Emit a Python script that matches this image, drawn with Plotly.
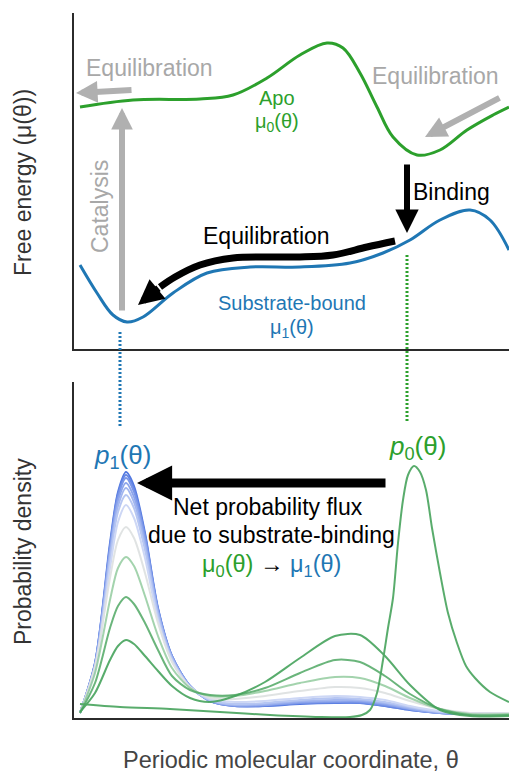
import plotly.graph_objects as go

# ---------------- data ----------------
# Top panel: free-energy landscapes (theta in display units, energy in arbitrary units)
APO_THETA = [80, 133, 200, 233, 267, 300, 327, 343, 360, 377, 393, 417, 440, 467, 493, 509]
APO_MU0 = [242, 249, 250, 254, 271, 294, 306, 301, 276, 242, 212, 194, 199, 219, 234, 242]

BOUND_THETA = [80, 97, 113, 127, 143, 173, 207, 250, 300, 350, 383, 410, 440, 470, 490, 509]
BOUND_MU1 = [84, 56, 34, 27, 32, 56, 76, 82, 82, 86, 96, 109, 129, 139, 129, 99]

# path of the black "Equilibration" arrow along the bound landscape
EQ_PATH_THETA = [395, 367, 333, 300, 267, 233, 200, 175, 160]
EQ_PATH_E = [108, 102, 94, 92, 92, 91, 84, 72, 62]

# Bottom panel: probability densities
P0_THETA = [80, 120, 170, 220, 270, 320, 350, 362, 370, 377, 383, 388, 393, 398, 403, 408,
            414, 420, 426, 432, 440, 448, 457, 466, 475, 490, 509]
P0_DENS = [14, 11, 9, 6, 3, 1, 1, 3, 8, 25, 58, 90, 120, 175, 218, 243,
           252, 246, 228, 190, 145, 105, 75, 52, 40, 26, 16]

GRID_THETA = [80, 95, 110, 118, 126, 134, 145, 158, 172, 190, 210, 235, 265, 300, 335, 360,
              385, 410, 440, 470, 509]
P_T01 = [6, 25, 58, 72, 78, 74, 62, 47, 32, 20, 16, 22, 36, 60, 82, 83, 62, 33, 8, 2, 2]
P_T02 = [5, 35, 90, 112, 121, 114, 95, 68, 42, 28, 23, 23, 30, 45, 58, 56, 42, 24, 9, 3, 3]
P_T03 = [5, 45, 118, 150, 161, 152, 122, 82, 50, 30, 22, 22, 27, 35, 41, 40, 32, 20, 9, 4, 4]
P_T04 = [5, 52, 140, 178, 191, 180, 145, 95, 56, 31, 20, 19, 22, 27, 31, 30, 25, 17, 9, 5, 5]
P_T05 = [5, 48, 150, 196, 213, 200, 160, 98, 57, 31, 19, 16, 17, 20, 22, 21, 18, 12, 7, 5, 5]
P_T06 = [5, 50, 158, 206, 223, 210, 168, 102, 59, 31, 18, 14, 15, 18, 20, 19, 16, 11, 6, 5, 5]
P_T07 = [5, 52, 163, 212, 230, 216, 173, 105, 60, 31, 18, 13, 14, 17, 18, 18, 15, 10, 6, 4, 5]
P_T08 = [5, 53, 167, 217, 235, 221, 177, 107, 61, 32, 17, 13, 13, 16, 17, 17, 14, 9, 5, 4, 5]
P_T09 = [5, 54, 170, 221, 240, 226, 181, 108, 61, 32, 17, 12, 13, 15, 16, 16, 13, 9, 5, 4, 5]
P_T10 = [5, 55, 172, 224, 243, 229, 183, 109, 62, 32, 17, 12, 12, 15, 15.5, 15, 12, 8, 5, 4, 5]
P_T11 = [5, 55, 175, 226, 246, 232, 185, 110, 62, 32, 17, 12, 12, 14, 15, 15, 12, 8, 5, 4, 5]
INTERMEDIATES = [P_T01, P_T02, P_T03, P_T04, P_T05, P_T06, P_T07, P_T08, P_T09, P_T10, P_T11]

THETA_MIN1 = 120   # marked minimum of mu1 (dotted blue)
THETA_MIN0 = 407   # marked minimum of mu0 (dotted green)

# ---------------- styles ----------------
GREEN = "#2ca02c"
BLUE = "#1f77b4"
GRAY = "#b0b0b0"
GRAYTXT = "#a8a8a8"
AXC = "#2b2b2b"
FONT = "Liberation Sans, Arial, Helvetica, sans-serif"
INT_COLORS = ["rgba(70,163,92,0.9)", "rgba(80,168,100,0.85)", "rgba(140,200,152,0.8)",
              "rgba(222,226,226,0.95)", "rgb(205,215,245)", "rgb(182,198,242)",
              "rgb(162,182,239)", "rgb(142,166,236)", "rgb(122,150,232)",
              "rgb(102,135,228)", "rgb(82,120,224)"]
P0_COLOR = "rgba(80,168,100,0.95)"

W, H = 509, 775
L = 74
TOP_DOM = [1 - 349 / H, 1 - 13 / H]
BOT_DOM = [1 - 718 / H, 1 - 382 / H]

fig = go.Figure()

# top panel curves
fig.add_trace(go.Scatter(x=APO_THETA, y=APO_MU0, mode="lines", xaxis="x", yaxis="y",
                         line=dict(color=GREEN, width=3, shape="spline", smoothing=1.0),
                         showlegend=False, hoverinfo="skip"))
fig.add_trace(go.Scatter(x=BOUND_THETA, y=BOUND_MU1, mode="lines", xaxis="x", yaxis="y",
                         line=dict(color=BLUE, width=3, shape="spline", smoothing=1.0),
                         showlegend=False, hoverinfo="skip"))
fig.add_trace(go.Scatter(x=EQ_PATH_THETA, y=EQ_PATH_E, mode="lines", xaxis="x", yaxis="y",
                         line=dict(color="black", width=7, shape="spline", smoothing=1.0),
                         showlegend=False, hoverinfo="skip"))

# bottom panel curves (blue first, green on top)
for dens, col in reversed(list(zip(INTERMEDIATES, INT_COLORS))):
    fig.add_trace(go.Scatter(x=GRID_THETA, y=dens, mode="lines", xaxis="x2", yaxis="y2",
                             line=dict(color=col, width=2, shape="spline", smoothing=0.8),
                             showlegend=False, hoverinfo="skip"))
fig.add_trace(go.Scatter(x=P0_THETA, y=P0_DENS, mode="lines", xaxis="x2", yaxis="y2",
                         line=dict(color=P0_COLOR, width=2, shape="spline", smoothing=0.8),
                         showlegend=False, hoverinfo="skip"))

ax_common = dict(showline=True, linecolor=AXC, linewidth=2, showticklabels=False, ticks="",
                 showgrid=False, zeroline=False, fixedrange=True)
fig.update_layout(
    width=W, height=H, margin=dict(l=L, r=0, t=0, b=0),
    paper_bgcolor="white", plot_bgcolor="white",
    xaxis=dict(domain=[0, 1], range=[74, 509], anchor="y", **ax_common),
    yaxis=dict(domain=TOP_DOM, range=[0, 336], anchor="x", **ax_common),
    xaxis2=dict(domain=[0, 1], range=[74, 509], anchor="y2", **ax_common),
    yaxis2=dict(domain=BOT_DOM, range=[0, 336], anchor="x2", **ax_common),
    font=dict(family=FONT),
)

# dotted guide lines across panels
fig.add_shape(type="line", xref="x", yref="paper", x0=THETA_MIN1, x1=THETA_MIN1,
              y0=1 - 332 / H, y1=1 - 428 / H, line=dict(color=BLUE, width=3, dash="2px,2px"))
fig.add_shape(type="line", xref="x", yref="paper", x0=THETA_MIN0, x1=THETA_MIN0,
              y0=1 - 255 / H, y1=1 - 422 / H, line=dict(color=GREEN, width=3, dash="2px,2px"))

ann = []


def arrow(x, y, ax, ay, color, width, size, xr="x", yr="y"):
    ann.append(dict(x=x, y=y, ax=ax, ay=ay, xref=xr, yref=yr, axref=xr, ayref=yr,
                    showarrow=True, arrowhead=2, arrowsize=size, arrowwidth=width,
                    arrowcolor=color, standoff=0, text=""))


def label(x, y, text, color, size=23, xr="x", yr="y", angle=0, yanchor="middle"):
    ann.append(dict(x=x, y=y, xref=xr, yref=yr, text=text, showarrow=False,
                    font=dict(color=color, size=size, family=FONT), textangle=angle,
                    xanchor="center", yanchor=yanchor, borderpad=0))


# arrows
arrow(76, 256, 133, 259, GRAY, 6, 0.72)            # left equilibration (gray)
arrow(425, 212, 501, 252, GRAY, 6, 0.72)           # right equilibration (gray)
arrow(122, 241, 122, 37, GRAY, 6, 0.72)            # catalysis
arrow(407, 116, 407, 186, "black", 6, 0.78)        # binding
arrow(138, 44, 160, 62, "black", 7, 0.72)          # equilibration along mu1
arrow(137, 235, 387, 235, "black", 9, 0.78, "x2", "y2")  # net flux

# texts top panel
label(149.5, 281, "Equilibration", GRAYTXT, 23)
label(435.5, 273, "Equilibration", GRAYTXT, 23)
label(277, 251, "Apo", GREEN, 20)
label(277, 226, "μ<sub>0</sub>(θ)", GREEN, 20)
label(100, 142, "Catalysis", GRAYTXT, 23, angle=-90)
label(451.5, 157, "Binding", "black", 23)
label(266, 113, "Equilibration", "black", 23)
label(292, 46, "Substrate-bound", BLUE, 20)
label(292, 20, "μ<sub>1</sub>(θ)", BLUE, 20)

# texts bottom panel
label(122, 262, "<i>p</i><sub>1</sub>(θ)", BLUE, 26, "x2", "y2")
label(417, 271, "<i>p</i><sub>0</sub>(θ)", GREEN, 26, "x2", "y2")
label(268, 211, "Net probability flux", "black", 23, "x2", "y2")
label(271, 183, "due to substrate-binding", "black", 23, "x2", "y2")
label(271, 153, '<span style="color:%s">μ<sub>0</sub>(θ)</span> → '
                '<span style="color:%s">μ<sub>1</sub>(θ)</span>' % (GREEN, BLUE),
      "black", 23.5, "x2", "y2")

# axis titles
label((23 - L) / (W - L), 1 - 183 / H, "Free energy (μ(θ))", "#333333", 23, "paper", "paper", -90)
label((23 - L) / (W - L), 1 - 552 / H, "Probability density", "#333333", 23, "paper", "paper", -90)
label((291 - L) / (W - L), 1 - 774 / H, "Periodic molecular coordinate, θ", "#444444", 23.5,
      "paper", "paper", yanchor="bottom")

fig.update_layout(annotations=ann)
fig.write_html("out.html")
